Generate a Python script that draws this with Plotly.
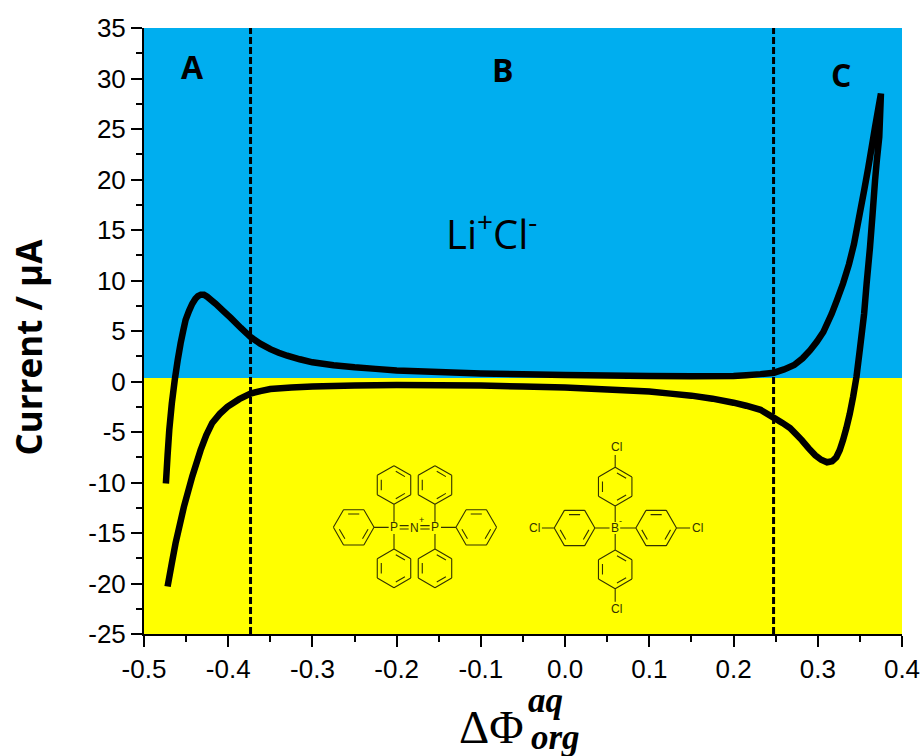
import math
import plotly.graph_objects as go

# ---- data ----
forward_x = [-0.474,-0.472,-0.470,-0.467,-0.4635,-0.460,-0.4565,-0.4535,-0.4506,-0.4465,-0.4427,-0.439,-0.436,-0.4325,-0.4288,-0.425,-0.42,-0.415,-0.406,-0.397,-0.385,-0.3735,-0.362,-0.35,-0.34,-0.33,-0.315,-0.30,-0.275,-0.25,-0.225,-0.20,-0.15,-0.10,-0.05,0.0,0.05,0.10,0.15,0.20,0.215,0.232,0.248,0.26,0.272,0.282,0.291,0.299,0.3066,0.3165,0.323,0.330,0.337,0.343,0.350,0.355,0.360,0.364,0.368,0.372,0.375]
forward_y = [-10.1,-7.3,-4.8,-2.2,0.15,2.1,3.8,5.0,6.1,7.0,7.7,8.2,8.45,8.6,8.6,8.4,8.05,7.7,7.0,6.3,5.3,4.4,3.75,3.2,2.85,2.55,2.2,1.9,1.6,1.4,1.25,1.1,0.93,0.8,0.72,0.65,0.6,0.55,0.53,0.55,0.62,0.73,0.87,1.2,1.63,2.3,3.1,3.95,4.9,6.7,8.1,9.7,11.6,13.6,16.7,18.9,21.2,23.2,25.2,27.1,28.5]
reverse_x = [0.373,0.370,0.368,0.365,0.362,0.358,0.355,0.350,0.346,0.342,0.338,0.334,0.330,0.326,0.322,0.317,0.311,0.304,0.297,0.289,0.281,0.274,0.267,0.258,0.248,0.232,0.215,0.20,0.175,0.15,0.125,0.10,0.05,0.0,-0.05,-0.10,-0.15,-0.20,-0.25,-0.30,-0.325,-0.35,-0.362,-0.3735,-0.387,-0.401,-0.41,-0.419,-0.426,-0.4328,-0.4427,-0.4526,-0.4625,-0.467,-0.472]
reverse_y = [24.2,21.8,19.9,16.5,13.3,9.7,6.7,3.2,0.5,-1.5,-3.2,-4.6,-5.8,-6.8,-7.5,-7.9,-8.0,-7.75,-7.3,-6.6,-5.8,-5.2,-4.6,-4.1,-3.6,-2.8,-2.4,-2.1,-1.7,-1.4,-1.2,-1.0,-0.8,-0.6,-0.5,-0.4,-0.36,-0.35,-0.4,-0.5,-0.6,-0.75,-0.95,-1.2,-1.75,-2.5,-3.2,-4.1,-5.3,-6.8,-9.4,-12.4,-16,-18,-20.3]
region_bounds = [-0.3735, 0.2475]
phase_boundary = 0.35
x_ticks = [-0.5,-0.4,-0.3,-0.2,-0.1,0.0,0.1,0.2,0.3,0.4]
x_labels = ["-0.5","-0.4","-0.3","-0.2","-0.1","0.0","0.1","0.2","0.3","0.4"]
y_ticks = list(range(-25, 40, 5))
y_labels = [str(v) for v in y_ticks]

W, H = 923, 756
L, R, T, B = 143.5, 902, 28, 634
BLUE, YELLOW = "#00AEEF", "#FFFF00"
FONT = "Liberation Sans"

fig = go.Figure()
fig.add_trace(go.Scatter(x=forward_x + reverse_x, y=forward_y + reverse_y, mode="lines",
                         line=dict(color="black", width=6.5, shape="linear", simplify=False),
                         hoverinfo="skip", showlegend=False))

def px(x, y):
    return (x - L) / (R - L) * 1.0, (B - y) / (B - T)

def z(zx, zy):
    return 320 + zx / 3, 430 + zy / 3

def seg(a, b):
    (x0, y0), (x1, y1) = px(*a), px(*b)
    return f"M{x0:.5f},{y0:.5f}L{x1:.5f},{y1:.5f}"

mol = []
def ring(cx, cy, r, start):
    c = z(cx, cy)
    rr = r / 3
    pts = [(c[0] + rr * math.cos(math.radians(start + 60 * i)), c[1] + rr * math.sin(math.radians(start + 60 * i))) for i in range(6)]
    for i in range(6):
        a, b = pts[i], pts[(i + 1) % 6]
        mol.append(seg(a, b))
        if i % 2 == 0:
            f, t = 0.76, 0.14
            ia = (c[0] + (a[0] - c[0]) * f, c[1] + (a[1] - c[1]) * f)
            ib = (c[0] + (b[0] - c[0]) * f, c[1] + (b[1] - c[1]) * f)
            mol.append(seg((ia[0] + (ib[0] - ia[0]) * t, ia[1] + (ib[1] - ia[1]) * t),
                           (ib[0] - (ib[0] - ia[0]) * t, ib[1] - (ib[1] - ia[1]) * t)))

def bond(x0, y0, x1, y1):
    mol.append(seg(z(x0, y0), z(x1, y1)))

for c in [(221, 165), (344, 165), (221, 415), (344, 415), (885, 170), (885, 418)]:
    ring(c[0], c[1], 58, 30)
for c in [(100, 292), (468, 292), (763, 294), (1008, 294)]:
    ring(c[0], c[1], 61, 0)
for b in [(221, 222, 221, 275), (221, 312, 221, 358), (344, 222, 344, 275), (344, 312, 344, 358),
          (160, 292, 205, 292), (362, 292, 408, 292),
          (238, 287, 265, 287), (238, 297, 265, 297), (300, 287, 328, 287), (300, 297, 328, 297),
          (824, 294, 868, 294), (900, 294, 947, 294), (885, 228, 885, 276), (885, 312, 885, 360),
          (885, 75, 885, 112), (885, 476, 885, 515), (665, 294, 702, 294), (1069, 294, 1110, 294)]:
    bond(*b)

shapes = [
    dict(type="rect", xref="x", yref="y", x0=-0.5, x1=0.4, y0=phase_boundary, y1=35, fillcolor=BLUE, line_width=0, layer="below"),
    dict(type="rect", xref="x", yref="y", x0=-0.5, x1=0.4, y0=-25, y1=phase_boundary, fillcolor=YELLOW, line_width=0, layer="below"),
    dict(type="path", xref="paper", yref="paper", path="".join(mol), line=dict(color="#333300", width=1.1), layer="above"),
]
for xb in region_bounds:
    shapes.append(dict(type="line", xref="x", yref="y", x0=xb, x1=xb, y0=-25, y1=35,
                       line=dict(color="black", width=3, dash="7px,3px"), layer="above"))

def note(text, x, y, size, family=FONT, color="black", **kw):
    fx, fy = px(x, y)
    return dict(text=text, x=fx, y=fy, xref="paper", yref="paper", showarrow=False,
                font=dict(size=size, family=family, color=color), xanchor="center", yanchor="middle", **kw)

anns = [
    note("<b>A</b>", 192, 67, 32, "Open Sans"),
    note("<b>B</b>", 503, 69, 32, "Open Sans"),
    note("<b>C</b>", 841, 74, 32, "Open Sans"),
    note("Li<sup>+</sup>Cl<sup>-</sup>", 491, 231, 40, "Open Sans"),
    note("<b>Current / µA</b>", 27, 347, 35, "Open Sans", textangle=-90),
    note("ΔΦ", 491, 727, 47, "Liberation Serif"),
    note("<b><i>aq</i></b>", 545, 700, 35, "Liberation Serif"),
    note("<b><i>org</i></b>", 555, 737, 35, "Liberation Serif"),
]
mol_color = "#333300"
for t, zx, zy in [("P", 221, 292), ("N", 282, 294), ("P", 344, 292), ("B", 883, 294),
                  ("Cl", 888, 52), ("Cl", 643, 294), ("Cl", 1132, 294), ("Cl", 888, 538)]:
    xp, yp = z(zx, zy)
    anns.append(note(t, xp, yp, 12, FONT, mol_color))
for t, zx, zy in [("+", 304, 270), ("-", 900, 272)]:
    xp, yp = z(zx, zy)
    anns.append(note(t, xp, yp, 9, FONT, mol_color))

axis = dict(showgrid=False, zeroline=False, showline=True, linecolor="black", linewidth=2,
            ticks="outside", ticklen=11, tickwidth=2, tickcolor="black", automargin=False,
            tickfont=dict(size=26, family=FONT, color="black"))
fig.update_layout(
    width=W, height=H, autosize=False, plot_bgcolor="white", paper_bgcolor="white",
    margin=dict(l=L, r=W - R, t=T, b=H - B, autoexpand=False), showlegend=False,
    xaxis=dict(range=[-0.5, 0.4], tickvals=x_ticks, ticktext=x_labels, fixedrange=True,
               ticklabeloverflow="allow",
               minor=dict(dtick=0.05, tick0=0, ticks="outside", ticklen=6, tickwidth=2, tickcolor="black"), **axis),
    yaxis=dict(range=[-25, 35], tickvals=y_ticks, ticktext=y_labels, fixedrange=True,
               minor=dict(dtick=2.5, tick0=0, ticks="outside", ticklen=6, tickwidth=2, tickcolor="black"), **axis),
    shapes=shapes, annotations=anns,
)
fig.write_html("out.html", config=dict(displayModeBar=False),
               post_script="document.body.style.margin='0';")
